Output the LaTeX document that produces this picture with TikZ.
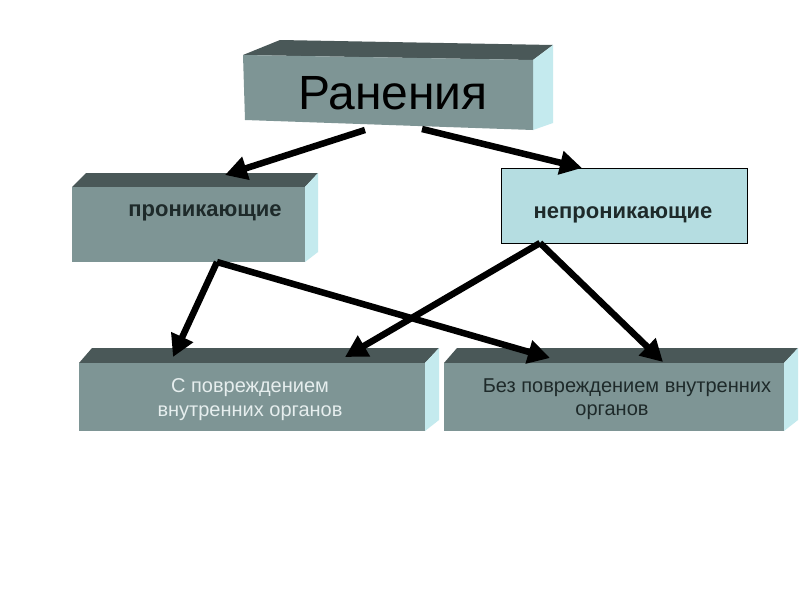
\documentclass[tikz,border=0pt]{standalone}
\usepackage{fontspec}
\setmainfont{Liberation Sans}
\usetikzlibrary{arrows.meta,calc}
\definecolor{frontc}{HTML}{7E9595}
\definecolor{topc}{HTML}{4A5858}
\definecolor{sidec}{HTML}{C4EAEE}
\definecolor{lightbox}{HTML}{B5DDE1}
\definecolor{darktext}{HTML}{1E2A2A}
\definecolor{lighttext}{HTML}{E6EEEE}
\begin{document}
\begin{tikzpicture}[x=1pt,y=-1pt,
  conn/.style={line width=6.5pt,-{Triangle[length=22pt,width=23pt]}},
  frontbox/.style={fill=frontc,inner sep=0pt},
  topface/.style={fill=topc},
  sideface/.style={fill=sidec},
  smalltxt/.style={font=\fontsize{20}{24}\selectfont,align=center,inner sep=0pt},
  boldtxt/.style={font=\fontsize{22}{26}\selectfont\bfseries,text=darktext,inner sep=0pt}]
\useasboundingbox (0,0) rectangle (800,600);
\fill[white] (0,0) rectangle (800,600);

% top box
\fill[topface] (243,55) -- (280,40) -- (553,45) -- (533,60) -- cycle;
\fill[sideface] (533,60) -- (553,45) -- (553,123) -- (533,130) -- cycle;
\fill[frontc] (243,55) -- (533,60) -- (533,130) -- (245,120) -- cycle;
\node[inner sep=0pt,font=\fontsize{48}{56}\selectfont] (ran) at (393,93) {Ранения};
\coordinate (ranL) at (365,130);
\coordinate (ranR) at (422,129);

% box 2
\fill[topface] (72,187) -- (86,173) -- (318,173) -- (305,187) -- cycle;
\fill[sideface] (305,187) -- (318,173) -- (318,252) -- (305,262) -- cycle;
\path[frontbox] (72,187) rectangle (305,262);
\node[boldtxt] (pr) at (205,213) {проникающие};
\coordinate (prTop) at (225,175);
\coordinate (prBot) at (217,262);

% box 3
\path[fill=lightbox,draw=black,line width=0.8pt] (501,168) rectangle (747,243);
\node[boldtxt] (npr) at (623,215) {непроникающие};
\coordinate (nprTop) at (582,168);
\coordinate (nprBot) at (540,243);

% box 4
\fill[topface] (79,363) -- (92,348) -- (439,348) -- (425,363) -- cycle;
\fill[sideface] (425,363) -- (439,348) -- (439,420) -- (425,431) -- cycle;
\path[frontbox] (79,363) rectangle (425,431);
\node[smalltxt,text=lighttext] (sp) at (250,400) {С повреждением\\внутренних органов};
\coordinate (spA) at (173,357);
\coordinate (spB) at (345,357);

% box 5
\fill[topface] (444,363) -- (457,348) -- (798,348) -- (784,363) -- cycle;
\fill[sideface] (784,363) -- (798,348) -- (798,420) -- (784,431) -- cycle;
\path[frontbox] (444,363) rectangle (784,431);
\node[smalltxt,text=darktext] (bp1) at (627,388) {Без повреждением внутренних};
\node[smalltxt,text=darktext] (bp2) at (612,412) {органов};
\coordinate (bpA) at (550,358);
\coordinate (bpB) at (663,362);

% connectors
\draw[conn] (ranL) -- (prTop);
\draw[conn] (ranR) -- (nprTop);
\draw[conn] (prBot) -- (spA);
\draw[conn] (prBot) -- (bpA);
\draw[conn] (nprBot) -- (spB);
\draw[conn] (nprBot) -- (bpB);
\end{tikzpicture}
\end{document}
